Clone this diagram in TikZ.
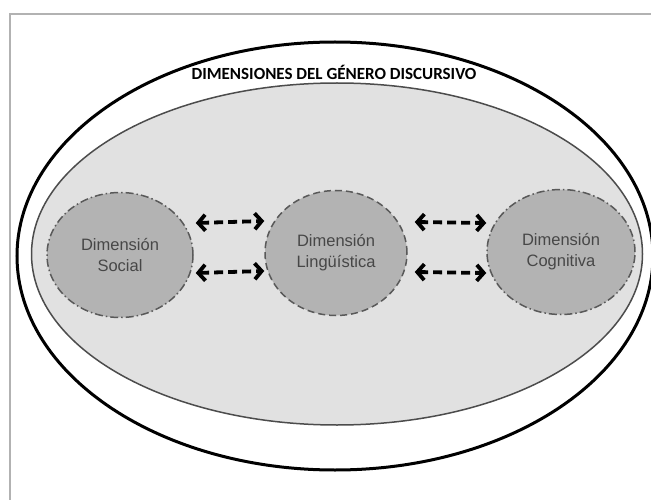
\documentclass[tikz,border=0pt]{standalone}
\usepackage{fontspec}
\setmainfont{Liberation Sans}
\newfontfamily\titlefont{Carlito}
\usetikzlibrary{arrows.meta,shapes.geometric}
\definecolor{fondo}{HTML}{E1E1E1}
\definecolor{dimension}{HTML}{B3B3B3}
\definecolor{texto}{HTML}{474747}

\begin{document}
\begin{tikzpicture}
      [x = 1pt, y = -1pt,
      genero/.style= {
         draw,
         ellipse,
         inner sep = 0pt
      },
      dim/.style= {
         draw = black!65,
         fill = dimension,
         ellipse,
         line width = 1.5pt,
         minimum width = 146pt,
         minimum height = 125pt,
         align = center,
         text = texto,
         font = \fontsize{16.5}{21}\selectfont
      },
      dashdot/.style= {dash pattern = on 8pt off 3pt on 1.5pt off 3pt},
      rel/.style= {
         {Straight Barb[length = 7pt, width = 16pt]}-{Straight Barb[length = 7pt, width = 16pt]},
         line width = 3.8pt,
         dash pattern = on 9pt off 5pt
      }]

      \useasboundingbox (0, 0) rectangle (651, 500);
      \draw[black!30, line width = 1.5pt] (10, 500) -- (10, 14) -- (651, 14);

      \node[genero, line width = 3pt, minimum width = 636pt, minimum height = 428pt] (externa) at (335, 256) {};
      \node[genero, draw = black!70, fill = fondo, line width = 1.5pt, minimum width = 611pt, minimum height = 342pt] (interna) at (337, 254) {};
      \node[font = \titlefont\bfseries\fontsize{17}{20}\selectfont] (titulo) at (334, 72) {DIMENSIONES DEL GÉNERO DISCURSIVO};

      \node[dim, dashdot] (social) at (120, 255) {Dimensión\\Social};
      \node[dim, dashed, dash pattern = on 7pt off 4pt, minimum width = 142pt] (linguistica) at (336, 253) {Dimensión\\Lingüística};
      \node[dim, dashdot, minimum width = 148pt] (cognitiva) at (561, 252) {Dimensión\\Cognitiva};

      \draw[rel] ([yshift = 32pt, xshift = 2pt] social.east) -- ([yshift = 32pt] linguistica.west);
      \draw[rel] ([yshift = -18pt, xshift = 2pt] social.east) -- ([yshift = -18pt] linguistica.west);
      \draw[rel] ([yshift = 31pt, xshift = 7pt] linguistica.east) -- ([yshift = 29pt] cognitiva.west);
      \draw[rel] ([yshift = -19pt, xshift = 7pt] linguistica.east) -- ([yshift = -21pt] cognitiva.west);

   \end{tikzpicture}
\end{document}
